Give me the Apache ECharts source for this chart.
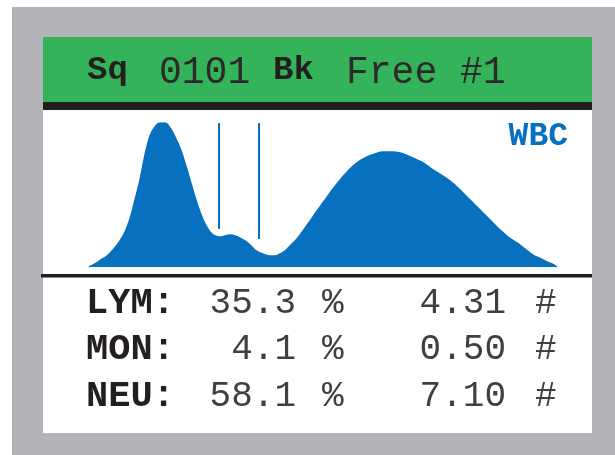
<!DOCTYPE html>
<html>
<head>
<meta charset="utf-8">
<script src="https://cdn.jsdelivr.net/npm/echarts@6/dist/echarts.min.js"></script>
<style>
  html, body { margin: 0; padding: 0; background: #ffffff; }
  #chart { width: 615px; height: 455px; }
</style>
</head>
<body>
<div id="chart"></div>
<script>
// WBC scatter histogram: channel positions and relative counts (peak = 100)
const channels = [0, 6, 12, 18, 24, 31, 36, 41, 46, 51, 56, 61, 66, 71, 76, 81, 86, 91, 96, 101,
  106, 111, 116, 121, 126, 131, 136, 141, 146, 151, 156, 161, 166, 171, 176, 181, 186, 191, 196, 201,
  208, 214, 221, 228, 236, 244, 252, 261, 269, 278, 286, 294, 303, 311, 319, 328, 336, 344, 352, 361,
  369, 378, 386, 394, 403, 411, 419, 428, 436, 444, 452, 458, 463, 468];
const counts = [0, 2.1, 4.9, 7.6, 11.8, 18.1, 24.3, 33.3, 46.5, 60.4, 77.8, 91.0, 97.2, 100, 100, 96.5, 90.3, 82.6, 72.2, 60.4,
  48.6, 38.2, 29.9, 24.3, 21.5, 20.8, 21.5, 22.2, 21.5, 20.1, 18.1, 15.3, 11.8, 9.7, 8.3, 7.6, 7.6, 9.0, 11.1, 14.6,
  19.4, 25.0, 31.9, 38.9, 46.5, 54.2, 61.1, 68.1, 72.9, 76.4, 78.5, 79.9, 79.9, 79.2, 77.1, 74.3, 71.5, 67.4, 63.9, 59.7,
  54.9, 48.6, 43.1, 37.5, 31.3, 25.7, 20.8, 16.7, 12.5, 8.3, 5.6, 3.5, 2.1, 0];

// Discriminator lines: channel, top and bottom in count units
const discChannels = [130, 170];
const discTop = [100, 100];
const discBottom = [26.4, 19.4];

// Header and result table texts
const headerBold = ['Sq', 'Bk'];
const headerPlain = ['0101', 'Free #1'];
const cellTypes = ['LYM:', 'MON:', 'NEU:'];
const percents = ['35.3', '4.1', '58.1'];
const absolutes = ['4.31', '0.50', '7.10'];

const BLUE = '#0770bf';
const INK = '#231f20';
const GREY_INK = '#404040';
const MONO = '"Courier New", "Liberation Mono", "DejaVu Sans Mono", monospace';

const chart = echarts.init(document.getElementById('chart'), null, { renderer: 'canvas' });

// text placed by the top of its em box
function label(x, y, text, font, fill, align) {
  return { type: 'text', z: 5, x: x, y: y,
    style: { text: text, font: font, fill: fill, align: align || 'left', verticalAlign: 'top' } };
}

const graphics = [
  { type: 'rect', z: -10, shape: { x: 12, y: 7, width: 603, height: 448 }, style: { fill: '#b3b4b8' } },
  { type: 'rect', z: -9, shape: { x: 43, y: 37, width: 549, height: 396 }, style: { fill: '#ffffff' } },
  { type: 'rect', z: -8, shape: { x: 43, y: 37, width: 549, height: 65 }, style: { fill: '#35b35a' } },
  { type: 'rect', z: -8, shape: { x: 43, y: 102, width: 549, height: 8 }, style: { fill: INK } },
  { type: 'rect', z: 5, shape: { x: 41, y: 274, width: 551, height: 3.5 }, style: { fill: INK } },
  label(87, 53, headerBold[0], 'bold 34px ' + MONO, INK),
  label(159, 54, headerPlain[0], '38px ' + MONO, '#2a2a2a'),
  label(273, 53, headerBold[1], 'bold 34px ' + MONO, INK),
  label(346, 54, headerPlain[1], '38px ' + MONO, '#2a2a2a'),
  label(568, 120, 'WBC', 'bold 33px ' + MONO, BLUE, 'right')
];

const rowTop = [285, 331, 378];
cellTypes.forEach((name, i) => {
  const y = rowTop[i];
  graphics.push(
    label(86, y, name, 'bold 37px ' + MONO, INK),
    label(296, y, percents[i], '36px ' + MONO, GREY_INK, 'right'),
    label(322, y, '%', '36px ' + MONO, GREY_INK),
    label(506, y, absolutes[i], '36px ' + MONO, GREY_INK, 'right'),
    label(535, y, '#', '36px ' + MONO, GREY_INK)
  );
});

const markLines = discChannels.map((c, i) => [
  { coord: [c, discTop[i]] },
  { coord: [c, discBottom[i]] }
]);

chart.setOption({
  animation: false,
  backgroundColor: 'transparent',
  graphic: graphics,
  grid: { left: 89, right: 58, top: 123, bottom: 188, containLabel: false },
  xAxis: { type: 'value', min: 0, max: 468, show: false },
  yAxis: { type: 'value', min: 0, max: 100, show: false },
  series: [{
    type: 'line',
    data: channels.map((c, i) => [c, counts[i]]),
    smooth: 0.4,
    showSymbol: false,
    lineStyle: { color: BLUE, width: 1.5 },
    areaStyle: { color: BLUE, opacity: 1 },
    z: 2,
    markLine: {
      silent: true,
      symbol: ['none', 'none'],
      label: { show: false },
      lineStyle: { color: BLUE, width: 2, type: 'solid' },
      data: markLines
    }
  }]
});
</script>
</body>
</html>
